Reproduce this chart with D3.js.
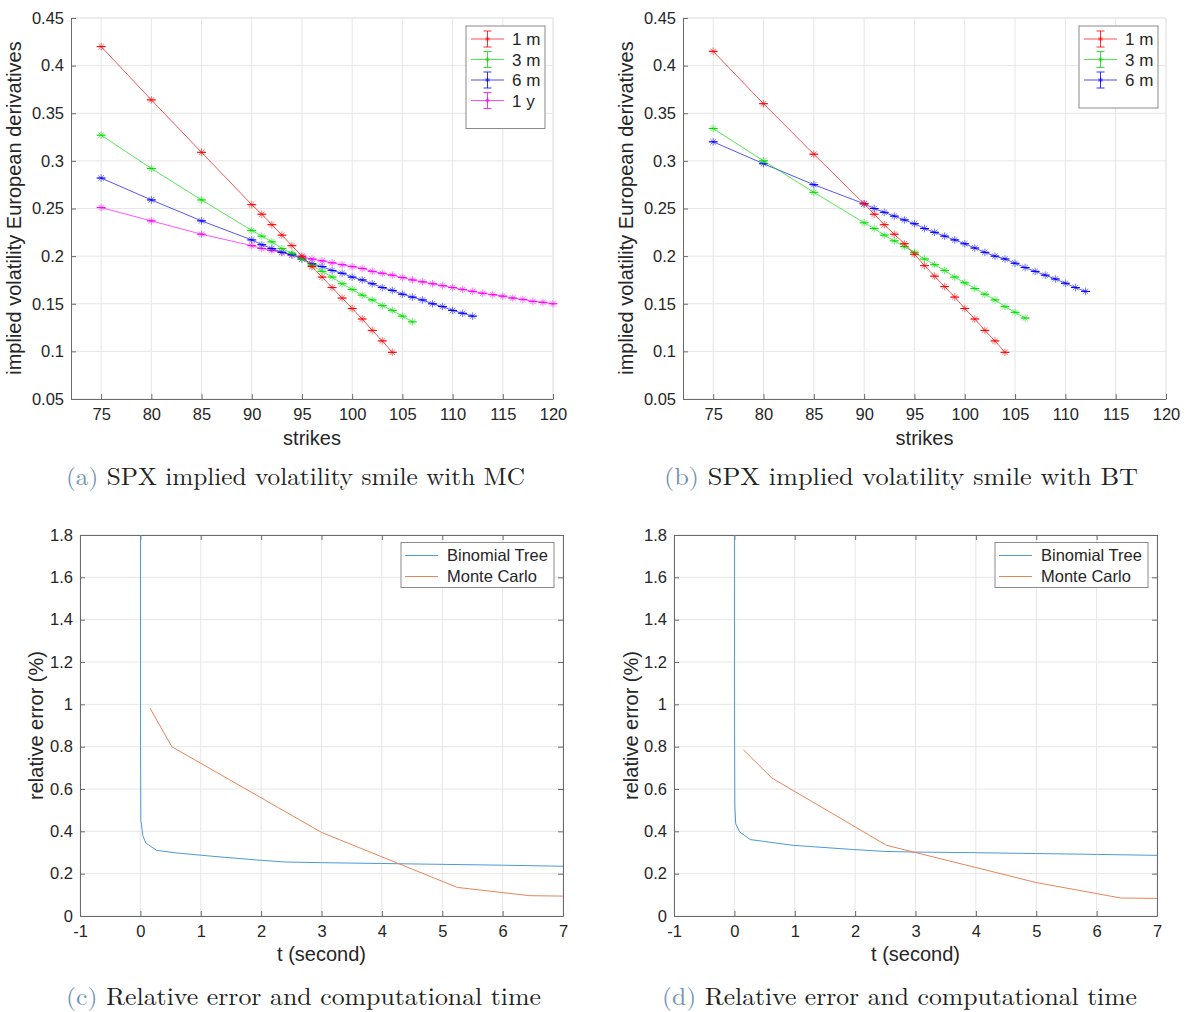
<!DOCTYPE html>
<html>
<head>
<meta charset="utf-8">
<script src="https://cdn.jsdelivr.net/npm/d3@7"></script>
<style>
body { margin: 0; background: #fff; }
svg text { font-family: "Liberation Sans", Arial, Helvetica, sans-serif; fill: #262626; }
</style>
</head>
<body>
<svg id="fig" width="1190" height="1012"></svg>
<script>
// ---- data ----
var strikes1m = [75, 80, 85, 90, 91, 92, 93, 94, 95, 96, 97, 98, 99, 100, 101, 102, 103, 104];
var strikes3m = [75, 80, 85, 90, 91, 92, 93, 94, 95, 96, 97, 98, 99, 100, 101, 102, 103, 104, 105, 106];
var strikes6m = [75, 80, 85, 90, 91, 92, 93, 94, 95, 96, 97, 98, 99, 100, 101, 102, 103, 104, 105, 106, 107, 108, 109, 110, 111, 112];
var strikes1y = [75, 80, 85, 90, 91, 92, 93, 94, 95, 96, 97, 98, 99, 100, 101, 102, 103, 104, 105, 106, 107, 108, 109, 110, 111, 112, 113, 114, 115, 116, 117, 118, 119, 120];

// (a) Monte Carlo
var mc1m = [0.420, 0.364, 0.309, 0.254, 0.244, 0.233, 0.222, 0.211, 0.200, 0.189, 0.178, 0.167, 0.156, 0.145, 0.134, 0.122, 0.111, 0.099];
var mc3m = [0.327, 0.292, 0.259, 0.227, 0.221, 0.215, 0.208, 0.203, 0.197, 0.190, 0.184, 0.178, 0.171, 0.165, 0.159, 0.154, 0.148, 0.143, 0.137, 0.131];
var mc6m = [0.282, 0.259, 0.237, 0.217, 0.212, 0.208, 0.204, 0.2015, 0.197, 0.192, 0.189, 0.185, 0.182, 0.178, 0.175, 0.171, 0.167, 0.164, 0.160, 0.157, 0.154, 0.150, 0.147, 0.143, 0.140, 0.137];
var mc1y = [0.251, 0.237, 0.223, 0.211, 0.208, 0.206, 0.204, 0.201, 0.199, 0.197, 0.195, 0.193, 0.191, 0.189, 0.187, 0.184, 0.182, 0.180, 0.1775, 0.175, 0.173, 0.171, 0.169, 0.167, 0.165, 0.163, 0.161, 0.1595, 0.158, 0.156, 0.1545, 0.1525, 0.1515, 0.150];

// (b) Binomial tree
var bt1m = [0.415, 0.360, 0.307, 0.255, 0.244, 0.233, 0.223, 0.213, 0.202, 0.190, 0.179, 0.168, 0.157, 0.145, 0.134, 0.122, 0.111, 0.099];
var bt3m = [0.334, 0.300, 0.267, 0.235, 0.229, 0.222, 0.216, 0.210, 0.204, 0.197, 0.191, 0.185, 0.178, 0.172, 0.166, 0.160, 0.154, 0.147, 0.141, 0.135];
var bt6m = [0.320, 0.297, 0.275, 0.255, 0.250, 0.246, 0.242, 0.238, 0.234, 0.229, 0.225, 0.221, 0.217, 0.213, 0.2085, 0.204, 0.200, 0.197, 0.1925, 0.188, 0.184, 0.180, 0.176, 0.1715, 0.167, 0.163];

var maturities = ["1 m", "3 m", "6 m", "1 y"];
var matColors = ["#ff0000", "#00e000", "#0000ff", "#ff00ff"];

// (c) / (d) relative error vs time
var tTreeC = [0, 0.003, 0.008, 0.02, 0.04, 0.09, 0.27, 0.6, 1.2, 2.0, 2.4, 3.0, 4.0, 5.0, 6.0, 7.0];
var errTreeC = [2.6, 0.8, 0.45, 0.43, 0.38, 0.345, 0.31, 0.298, 0.282, 0.263, 0.255, 0.252, 0.248, 0.244, 0.240, 0.235];
var tMcC = [0.16, 0.52, 3.0, 5.25, 6.45, 7.0];
var errMcC = [0.982, 0.80, 0.395, 0.135, 0.096, 0.094];

var tTreeD = [0, 0.003, 0.008, 0.022, 0.088, 0.265, 0.97, 1.97, 2.5, 3.0, 4.0, 5.0, 6.0, 7.0];
var errTreeD = [2.6, 0.9, 0.52, 0.436, 0.397, 0.361, 0.334, 0.314, 0.305, 0.302, 0.299, 0.295, 0.291, 0.2865];
var tMcD = [0.15, 0.62, 2.52, 5.0, 6.4, 7.0];
var errMcD = [0.785, 0.652, 0.334, 0.158, 0.085, 0.083];

var methods = ["Binomial Tree", "Monte Carlo"];
var methodColors = ["#4c9ad6", "#e8845a"];

var strikeTicks = [75, 80, 85, 90, 95, 100, 105, 110, 115, 120];
var volTicks = [0.05, 0.1, 0.15, 0.2, 0.25, 0.3, 0.35, 0.4, 0.45];
var timeTicks = [-1, 0, 1, 2, 3, 4, 5, 6, 7];
var errTicks = [0, 0.2, 0.4, 0.6, 0.8, 1, 1.2, 1.4, 1.6, 1.8];

var captions = [
  ["(a)", " SPX implied volatility smile with MC"],
  ["(b)", " SPX implied volatility smile with BT"],
  ["(c)", " Relative error and computational time"],
  ["(d)", " Relative error and computational time"]
];

// ---- drawing ----
var svg = d3.select("#fig");
svg.append("rect").attr("width", 1190).attr("height", 1012).attr("fill", "#fff");

function fmt(d) { return String(+d.toFixed(2)); }

function makeAxes(left, top, w, h, xdom, ydom, xt, yt, box, id) {
  var g = svg.append("g").attr("transform", "translate(" + left + "," + top + ")");
  var x = d3.scaleLinear().domain(xdom).range([0, w]);
  var y = d3.scaleLinear().domain(ydom).range([h, 0]);
  // grid
  g.append("g").selectAll("line").data(xt).join("line")
    .attr("x1", d => x(d)).attr("x2", d => x(d)).attr("y1", 0).attr("y2", h)
    .attr("stroke", "#e6e6e6").attr("stroke-width", 1);
  g.append("g").selectAll("line").data(yt).join("line")
    .attr("y1", d => y(d)).attr("y2", d => y(d)).attr("x1", 0).attr("x2", w)
    .attr("stroke", "#e6e6e6").attr("stroke-width", 1);
  if (!box) {
    g.append("line").attr("x1", 0).attr("x2", w).attr("y1", 0).attr("y2", 0).attr("stroke", "#e6e6e6");
    g.append("line").attr("x1", w).attr("x2", w).attr("y1", 0).attr("y2", h).attr("stroke", "#e6e6e6");
  }
  var xa = g.append("g").attr("transform", "translate(0," + h + ")")
    .call(d3.axisBottom(x).tickValues(xt).tickFormat(fmt).tickSizeInner(-5).tickSizeOuter(0).tickPadding(9));
  var ya = g.append("g")
    .call(d3.axisLeft(y).tickValues(yt).tickFormat(fmt).tickSizeInner(-5).tickSizeOuter(0).tickPadding(7));
  var axes = [xa, ya];
  if (box) {
    axes.push(g.append("g").call(d3.axisTop(x).tickValues(xt).tickFormat("").tickSizeInner(-5).tickSizeOuter(0)));
    axes.push(g.append("g").attr("transform", "translate(" + w + ",0)")
      .call(d3.axisRight(y).tickValues(yt).tickFormat("").tickSizeInner(-5).tickSizeOuter(0)));
  }
  axes.forEach(function(a) {
    a.select(".domain").attr("stroke", "#6a6a6a");
    a.selectAll(".tick line").attr("stroke", "#6a6a6a");
    a.selectAll("text").attr("font-size", 16.5).attr("fill", "#262626");
  });
  g.append("clipPath").attr("id", id).append("rect").attr("width", w).attr("height", h);
  return {g: g, x: x, y: y, w: w, h: h};
}

function starPath(cx, cy, r) {
  var d = r * 0.72;
  return "M" + (cx - r) + "," + cy + "H" + (cx + r) +
    "M" + cx + "," + (cy - r) + "V" + (cy + r) +
    "M" + (cx - d) + "," + (cy - d) + "L" + (cx + d) + "," + (cy + d) +
    "M" + (cx - d) + "," + (cy + d) + "L" + (cx + d) + "," + (cy - d);
}

function smileSeries(ax, xs, ys, color) {
  var pts = xs.map((k, i) => [k, ys[i]]);
  var line = d3.line().x(d => ax.x(d[0])).y(d => ax.y(d[1]));
  ax.g.append("path").datum(pts).attr("d", line)
    .attr("fill", "none").attr("stroke", color).attr("stroke-width", 0.9).attr("stroke-opacity", 0.75);
  var m = ax.g.append("g").attr("stroke", color).attr("fill", "none").attr("stroke-width", 1);
  m.selectAll("path.star").data(pts).join("path").attr("class", "star")
    .attr("d", d => starPath(ax.x(d[0]), ax.y(d[1]), 3.8)).attr("stroke-opacity", 0.55);
  m.selectAll("path.cap").data(pts).join("path").attr("class", "cap")
    .attr("d", d => "M" + (ax.x(d[0]) - 4.5) + "," + ax.y(d[1]) + "H" + (ax.x(d[0]) + 4.5));
}

function smileLegend(ax, n) {
  var bw = 79, bh = 21 + n * 20.5 - 0.5;
  var lg = ax.g.append("g").attr("transform", "translate(" + (ax.w - 8 - bw) + ",8)");
  lg.append("rect").attr("width", bw).attr("height", bh).attr("fill", "#fff").attr("stroke", "#8a8a8a");
  for (var i = 0; i < n; i++) {
    var cy = 13 + i * 20.5, c = matColors[i];
    lg.append("line").attr("x1", 5).attr("x2", 38).attr("y1", cy).attr("y2", cy).attr("stroke", c).attr("stroke-opacity", 0.7);
    lg.append("path").attr("d", "M17.5," + (cy - 8) + "H25.5M21.5," + (cy - 8) + "V" + (cy + 8) + "M17.5," + (cy + 8) + "H25.5")
      .attr("stroke", c).attr("fill", "none").attr("stroke-opacity", 0.8);
    lg.append("path").attr("d", starPath(21.5, cy, 2.5)).attr("stroke", c).attr("stroke-opacity", 0.6).attr("fill", "none");
    lg.append("text").attr("x", 46).attr("y", cy).attr("dy", "0.36em").attr("font-size", 17).text(maturities[i]);
  }
}

function errSeries(ax, ts, es, color, clip) {
  var pts = ts.map((t, i) => [t, es[i]]);
  ax.g.append("path").datum(pts).attr("clip-path", "url(#" + clip + ")")
    .attr("d", d3.line().x(d => ax.x(d[0])).y(d => ax.y(d[1])))
    .attr("fill", "none").attr("stroke", color).attr("stroke-width", 1);
}

function errLegend(ax) {
  var bw = 153, bh = 45;
  var lg = ax.g.append("g").attr("transform", "translate(" + (ax.w - 9 - bw) + ",7.5)");
  lg.append("rect").attr("width", bw).attr("height", bh).attr("fill", "#fff").attr("stroke", "#8a8a8a");
  for (var i = 0; i < 2; i++) {
    var cy = 13 + i * 21;
    lg.append("line").attr("x1", 4).attr("x2", 37).attr("y1", cy).attr("y2", cy).attr("stroke", methodColors[i]);
    lg.append("text").attr("x", 46).attr("y", cy).attr("dy", "0.36em").attr("font-size", 16.5).text(methods[i]);
  }
}

function yLabel(x, y, txt) {
  svg.append("text").attr("transform", "translate(" + x + "," + y + ") rotate(-90)")
    .attr("text-anchor", "middle").attr("font-size", 20).text(txt);
}
function xLabel(x, y, txt) {
  svg.append("text").attr("x", x).attr("y", y).attr("text-anchor", "middle").attr("font-size", 20).text(txt);
}
function caption(x, y, len, parts) {
  var t = svg.append("text").attr("x", x).attr("y", y)
    .attr("textLength", len).attr("lengthAdjust", "spacingAndGlyphs")
    .style("font-family", "'Latin Modern Roman', 'Liberation Serif', serif").attr("font-size", 24);
  t.append("tspan").style("fill", "#7096b8").text(parts[0]);
  t.append("tspan").style("fill", "#222").text(parts[1]);
}

// (a)
var axA = makeAxes(71, 18, 482, 381, [72, 120], [0.05, 0.45], strikeTicks, volTicks, false, "clipA");
[strikes1y, strikes6m, strikes3m, strikes1m].forEach(function(s, j) {
  var i = 3 - j;
  smileSeries(axA, s, [mc1m, mc3m, mc6m, mc1y][i], matColors[i]);
});
smileLegend(axA, 4);
yLabel(21, 208, "implied volatility European derivatives");
xLabel(312, 445, "strikes");

// (b)
var axB = makeAxes(683, 18, 483, 381, [72, 120], [0.05, 0.45], strikeTicks, volTicks, false, "clipB");
[strikes6m, strikes3m, strikes1m].forEach(function(s, j) {
  var i = 2 - j;
  smileSeries(axB, s, [bt1m, bt3m, bt6m][i], matColors[i]);
});
smileLegend(axB, 3);
yLabel(633, 208, "implied volatility European derivatives");
xLabel(924.5, 445, "strikes");

// (c)
var axC = makeAxes(80, 535, 483, 381, [-1, 7], [0, 1.8], timeTicks, errTicks, true, "clipC");
errSeries(axC, tTreeC, errTreeC, methodColors[0], "clipC");
errSeries(axC, tMcC, errMcC, methodColors[1], "clipC");
errLegend(axC);
yLabel(43, 725.5, "relative error (%)");
xLabel(321.5, 961, "t (second)");

// (d)
var axD = makeAxes(674, 535, 483, 381, [-1, 7], [0, 1.8], timeTicks, errTicks, true, "clipD");
errSeries(axD, tTreeD, errTreeD, methodColors[0], "clipD");
errSeries(axD, tMcD, errMcD, methodColors[1], "clipD");
errLegend(axD);
yLabel(638, 725.5, "relative error (%)");
xLabel(915.5, 961, "t (second)");

caption(66, 485, 459, captions[0]);
caption(664, 485, 474, captions[1]);
caption(66, 1005, 475, captions[2]);
caption(662, 1005, 475, captions[3]);
</script>
</body>
</html>
